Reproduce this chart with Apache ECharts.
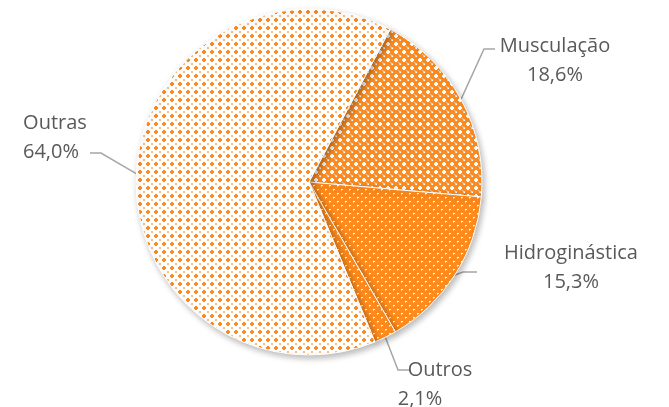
<!DOCTYPE html>
<html><head><meta charset="utf-8">
<script src="https://cdn.jsdelivr.net/npm/echarts@6/dist/echarts.min.js"></script>
<style>html,body{margin:0;padding:0;background:#fff}#c{width:669px;height:407px}</style>
</head><body><div id="c"></div>
<script>
const categories = ['Musculação', 'Hidroginástica', 'Outros', 'Outras'];
const values = [18.6, 15.3, 2.1, 64.0];

const ORANGE = '#FD8B1E';
function tile(w, h, bg, pts) {
  const c = document.createElement('canvas');
  c.width = w; c.height = h;
  const g = c.getContext('2d');
  g.fillStyle = bg; g.fillRect(0, 0, w, h);
  pts.forEach(p => { g.fillStyle = p[4]; g.fillRect(p[0], p[1], p[2], p[3]); });
  return c;
}
const W = '#FFFFFF', WL = 'rgba(255,255,255,0.6)', O = ORANGE, OL = 'rgba(253,139,30,0.55)';
const patMusc = tile(8, 8, ORANGE, [
  [2,3,4,2,W],[3,2,2,4,W],[0,0,1,1,W],[7,7,1,1,WL],[7,0,1,1,WL],[0,7,1,1,WL],[6,6,1,1,WL]
]);
const patOutras = tile(8, 8, '#FFFFFF', [
  [2,3,4,2,O],[3,2,2,4,O],[7,7,2,2,OL],[0,0,1,1,OL],[7,0,1,1,OL],[0,7,1,1,OL]
]);
const patHidro = tile(8, 8, ORANGE, [
  [1,1,2,1,W],[5,5,2,1,W],[1,2,1,1,WL],[5,6,1,1,WL]
]);
const patterns = [patMusc, patHidro, patHidro, patOutras];

// label block centres and leader bends (layout)
const labelCfg = [
  {x: 555, y: 61, bend: [484, 49], end: [495, 49]},
  {x: 571, y: 268, bend: [463, 272], end: [477, 272]},
  {x: 440, y: 385, bend: [398, 370], end: [410, 370]},
  {x: 55, y: 138, bend: [101, 153], end: [90, 153]}
];
const secondLineShift = [0, 0, 40, 8];

function fmt(v) { return v.toFixed(1).replace('.', ',') + '%'; }

const base = {color: '#595959', fontFamily: 'Open Sans', fontSize: 20, lineHeight: 29};
const rich = {a: base};
secondLineShift.forEach((s, i) => { rich['b' + i] = Object.assign({}, base, {padding: [0, s, 0, 0]}); });

const chart = echarts.init(document.getElementById('c'), null, {renderer: 'canvas'});
chart.setOption({
  animation: false,
  series: [{
    type: 'pie',
    center: [309, 182],
    radius: 173,
    startAngle: 62,
    clockwise: true,
    data: categories.map((n, i) => ({
      name: n, value: values[i],
      itemStyle: {color: {image: patterns[i], repeat: 'repeat'}}
    })),
    itemStyle: {
      borderColor: '#fff', borderWidth: 1,
      shadowBlur: 6, shadowOffsetX: 2, shadowOffsetY: 3, shadowColor: 'rgba(0,0,0,0.28)'
    },
    label: Object.assign({
      show: true, position: 'outside', align: 'center',
      formatter: p => '{a|' + p.name + '}\n{b' + p.dataIndex + '|' + fmt(p.value) + '}',
      rich: rich
    }, base),
    labelLine: {show: true, lineStyle: {color: '#A6A6A6', width: 1.5}, length: 15, length2: 10},
    labelLayout: function (p) {
      const c = labelCfg[p.dataIndex];
      const p0 = p.labelLinePoints ? p.labelLinePoints[0] : c.bend;
      return {
        x: c.x, y: c.y, align: 'center', verticalAlign: 'middle',
        labelLinePoints: [p0, c.bend, c.end]
      };
    },
    emphasis: {disabled: true}
  }]
});
</script></body></html>
